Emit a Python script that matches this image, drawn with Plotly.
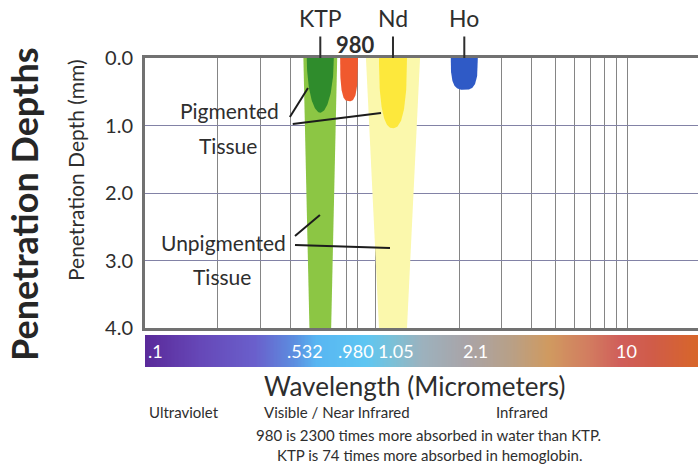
import numpy as np
import plotly.graph_objects as go

# ---------------- data ----------------
laser_names = ["KTP", "980", "Nd", "Ho"]
# position of each laser on the chart's (log) wavelength scale, in micrometers
laser_pos_um = [0.532, 0.70, 1.064, 2.1]
pigmented_depth_mm = [0.81, 0.64, 1.04, 0.47]
unpigmented_depth_mm = [4.0, None, 4.0, None]

depth_ticks = [0.0, 1.0, 2.0, 3.0, 4.0]
grid_um = [0.2, 0.3, 0.4, 0.5, 0.68, 0.76, 0.9, 1, 2, 3, 4, 5, 6, 7, 8, 9, 10]

bar_labels = [".1", ".532", ".980", "1.05", "2.1", "10"]
bar_label_pos_um = [0.111, 0.46, 0.748, 1.094, 2.33, 9.9]

region_labels = ["Ultraviolet", "Visible / Near Infrared", "Infrared"]
notes = ["980 is 2300 times more absorbed in water than KTP.",
         "KTP is 74 times more absorbed in hemoglobin."]

# ---------------- style ----------------
X_RANGE = [-1.0, 1.29]          # log10 micrometers
FONT = "Lato"
TXT = "#2e2e2e"
pig_colors = ["#2f8c2c", "#f0592e", "#fde83c", "#2f5ac6"]
pig_half_dec = [0.056, 0.037, 0.058, 0.056]
pig_shape_n = [2.0, 3.0, 2.5, 3.2]
unpig_colors = ["#8cc644", None, "#fbf8ac", None]
unpig_top_half = [0.070, None, 0.112, None]
unpig_bot_half = [0.045, None, 0.058, None]


def blob(center_um, half_dec, depth, n, npts=80):
    t = np.linspace(0, np.pi, npts)
    c, s = np.cos(t), np.sin(t)
    xs = np.sign(c) * np.abs(c) ** (2.0 / n)
    ys = np.abs(s) ** (2.0 / n)
    lx = np.log10(center_um) + half_dec * xs
    return 10 ** lx, depth * ys


def band(center_um, top_half, bot_half, depth):
    lc = np.log10(center_um)
    lx = np.array([lc - top_half, lc + top_half, lc + bot_half, lc - bot_half, lc - top_half])
    return 10 ** lx, [0, 0, depth, depth, 0]


fig = go.Figure()

# wavelength colour bar
bar_x = np.logspace(X_RANGE[0] - 0.02, X_RANGE[1] + 0.02, 400)
bar_z = np.log10(bar_x)
stops = [(0.00, "#5a2a9a"), (0.10, "#6648b8"), (0.20, "#6a60cc"), (0.27, "#5c8ee0"),
         (0.31, "#58b6f2"), (0.40, "#5ec6f2"), (0.45, "#7cc0d6"), (0.50, "#9cb2be"),
         (0.58, "#a9a4a8"), (0.66, "#b8a088"), (0.73, "#d09a60"), (0.80, "#d27e60"),
         (0.86, "#d05e5a"), (0.92, "#d05c48"), (1.00, "#d8662a")]
fig.add_trace(go.Heatmap(x=bar_x, y=[0.25, 0.75], z=[bar_z, bar_z],
                         zmin=X_RANGE[0], zmax=X_RANGE[1],
                         colorscale=[[p, c] for p, c in stops], showscale=False,
                         xaxis="x2", yaxis="y2", hoverinfo="skip"))

# unpigmented tissue bands
for i, name in enumerate(laser_names):
    if unpigmented_depth_mm[i] is None:
        continue
    bx, by = band(laser_pos_um[i], unpig_top_half[i], unpig_bot_half[i], unpigmented_depth_mm[i])
    fig.add_trace(go.Scatter(x=bx, y=by, mode="lines", fill="toself", fillcolor=unpig_colors[i],
                             line=dict(width=0), hoverinfo="skip", showlegend=False))

# pigmented tissue blobs
for i, name in enumerate(laser_names):
    bx, by = blob(laser_pos_um[i], pig_half_dec[i], pigmented_depth_mm[i], pig_shape_n[i])
    fig.add_trace(go.Scatter(x=bx, y=by, mode="lines", fill="toself", fillcolor=pig_colors[i],
                             line=dict(width=0), hoverinfo="skip", showlegend=False))

# leader lines for the labels
leaders = [([0.398, 0.473], [0.874, 0.444]),
           ([0.409, 0.949], [0.978, 0.815]),
           ([0.418, 0.530], [2.637, 2.326]),
           ([0.418, 1.034], [2.770, 2.815])]
for lx, ly in leaders:
    fig.add_trace(go.Scatter(x=lx, y=ly, mode="lines", line=dict(color="#1c1c1c", width=2),
                             hoverinfo="skip", showlegend=False))

ann = []
# laser names above the chart
for name, pos in zip(laser_names, laser_pos_um):
    if name == "980":
        ann.append(dict(x=np.log10(pos), xref="x", xshift=6, y=1.045, yref="paper",
                        xanchor="center", yanchor="middle",
                        text="<b>980</b>", showarrow=False,
                        font=dict(family=FONT, size=22, color=TXT)))
    else:
        ann.append(dict(x=np.log10(pos), xref="x", y=1, yref="paper", text=name,
                        showarrow=True, arrowhead=0, arrowwidth=2, arrowcolor=TXT,
                        ax=0, ay=-40, standoff=0, startstandoff=3,
                        font=dict(family=FONT, size=23, color=TXT)))

# tissue labels
for txt, xu, yd in [("Pigmented", 0.2228, 0.785), ("Tissue", 0.2208, 1.29),
                    ("Unpigmented", 0.2123, 2.74), ("Tissue", 0.2084, 3.23)]:
    ann.append(dict(x=np.log10(xu), xref="x", y=yd, yref="y", text=txt, showarrow=False,
                    xanchor="center", yanchor="middle",
                    font=dict(family=FONT, size=21, color=TXT)))

# colour bar labels
for txt, pos in zip(bar_labels, bar_label_pos_um):
    ann.append(dict(x=np.log10(pos), xref="x2", y=0.5, yref="y2", text=txt, showarrow=False,
                    xanchor="center", yanchor="middle",
                    font=dict(family=FONT, size=18, color="white")))


def paper_text(txt, x, y, size, color=TXT, angle=0):
    return dict(x=x, y=y, xref="paper", yref="paper", text=txt, showarrow=False,
                xanchor="center", yanchor="middle", textangle=angle,
                font=dict(family=FONT, size=size, color=color))


# axis titles and footer text
ann.append(paper_text("Wavelength (Micrometers)", 0.488, -0.0615, 26))
for txt, px in zip(region_labels, [0.0705, 0.347, 0.682]):
    ann.append(paper_text(txt, px, -0.1456, 15))
for txt, px, py in zip(notes, [0.512, 0.515], [-0.220, -0.285]):
    ann.append(paper_text(txt, px, py, 15))
ann.append(paper_text("Penetration Depth (mm)", -0.1266, 0.6375, 21, angle=-90))
ann.append(paper_text("<b>Penetration Depths</b>", -0.2188, 0.5275, 36, color="#262626", angle=-90))

fig.update_layout(
    width=698, height=466,
    margin=dict(l=145, r=0, t=58, b=99),
    paper_bgcolor="white", plot_bgcolor="white",
    showlegend=False,
    xaxis=dict(type="log", range=X_RANGE, tickvals=grid_um, showticklabels=False, ticks="",
               showgrid=True, gridcolor="#858585", gridwidth=1, zeroline=False,
               showline=True, linecolor="#717171", linewidth=3, mirror=True, anchor="y"),
    yaxis=dict(domain=[0.1262, 1], range=[4, 0], tickvals=depth_ticks,
               ticktext=[f"{v:.1f}" for v in depth_ticks], ticks="", ticklabelstandoff=5,
               tickfont=dict(family=FONT, size=20, color=TXT),
               showgrid=True, gridcolor="#8282a6", gridwidth=1, zeroline=False,
               showline=True, linecolor="#717171", linewidth=3, anchor="x"),
    xaxis2=dict(type="log", range=X_RANGE, visible=False, anchor="y2"),
    yaxis2=dict(domain=[0, 0.1036], range=[0, 1], visible=False, anchor="x2"),
    annotations=ann,
)

fig.write_html("out.html", config={"displayModeBar": False},
               post_script="document.body.style.margin='0';document.body.style.overflow='hidden';")
